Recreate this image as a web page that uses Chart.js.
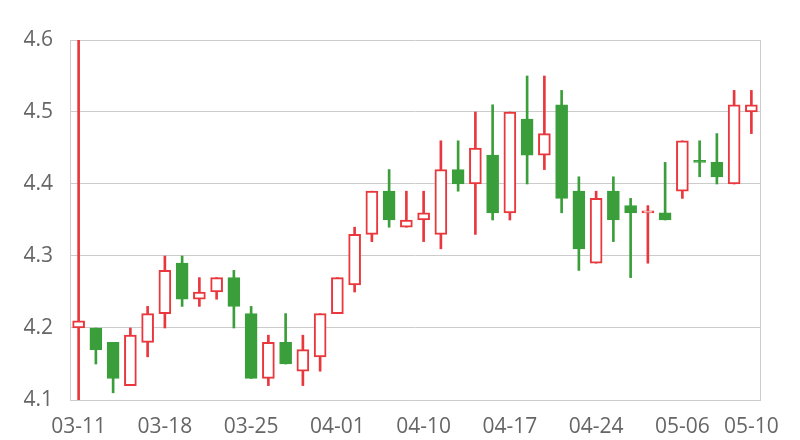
<!DOCTYPE html>
<html>
<head>
<meta charset="utf-8">
<script src="https://cdn.jsdelivr.net/npm/chart.js@4/dist/chart.umd.min.js"></script>
<style>
  html, body { margin:0; padding:0; background:#fff; }
  #wrap { width:800px; height:440px; }
</style>
</head>
<body>
<div id="wrap"><canvas id="kChart" width="800" height="440"></canvas></div>
<script>
const dates = ["03-11","03-12","03-13","03-14","03-15","03-18","03-19","03-20","03-21","03-22",
  "03-25","03-26","03-27","03-28","03-29","04-01","04-02","04-03","04-08","04-09",
  "04-10","04-11","04-12","04-15","04-16","04-17","04-18","04-19","04-22","04-23",
  "04-24","04-25","04-26","04-29","04-30","05-06","05-07","05-08","05-09","05-10"];
const shownTicks = ["03-11","03-18","03-25","04-01","04-10","04-17","04-24","05-06","05-10"];

const open  = [4.20,4.20,4.18,4.12,4.18,4.22,4.29,4.24,4.25,4.27, 4.22,4.13,4.18,4.14,4.16,4.22,4.26,4.33,4.39,4.34,
               4.35,4.33,4.42,4.40,4.44,4.36,4.49,4.44,4.51,4.39, 4.29,4.39,4.37,4.36,4.36,4.39,4.43,4.43,4.40,4.50];
const close = [4.21,4.17,4.13,4.19,4.22,4.28,4.24,4.25,4.27,4.23, 4.13,4.18,4.15,4.17,4.22,4.27,4.33,4.39,4.35,4.35,
               4.36,4.42,4.40,4.45,4.36,4.50,4.44,4.47,4.38,4.31, 4.38,4.35,4.36,4.36,4.35,4.46,4.43,4.41,4.51,4.51];
const high  = [4.60,4.20,4.18,4.20,4.23,4.30,4.30,4.27,4.27,4.28, 4.23,4.19,4.22,4.19,4.22,4.27,4.34,4.39,4.42,4.39,
               4.39,4.46,4.46,4.50,4.51,4.50,4.55,4.55,4.53,4.41, 4.39,4.41,4.38,4.37,4.43,4.46,4.46,4.47,4.53,4.53];
const low   = [4.10,4.15,4.11,4.12,4.16,4.20,4.23,4.23,4.24,4.20, 4.13,4.12,4.15,4.12,4.14,4.22,4.25,4.32,4.34,4.34,
               4.32,4.31,4.39,4.33,4.35,4.35,4.40,4.42,4.36,4.28, 4.29,4.32,4.27,4.29,4.35,4.38,4.41,4.40,4.40,4.47];

const RED = "#e8383d";
const GREEN = "#3a9f3a";
const GRID = "#cccccc";

// up day: close above open (or equal and not below previous close)
function isUp(i){
  if(close[i] !== open[i]) return close[i] > open[i];
  return i === 0 || close[i] >= close[i-1];
}
const colors = dates.map((d,i) => isUp(i) ? RED : GREEN);
const fills = dates.map((d,i) => isUp(i) ? "#ffffff" : GREEN);
const borders = dates.map((d,i) => isUp(i) ? 2 : 1);

const rightBorder = {
  id: "rightBorder",
  beforeDatasetsDraw(chart){
    const { ctx, chartArea } = chart;
    ctx.save();
    ctx.strokeStyle = GRID;
    ctx.lineWidth = 1;
    ctx.beginPath();
    ctx.moveTo(Math.round(chartArea.right) + 0.5, chartArea.top);
    ctx.lineTo(Math.round(chartArea.right) + 0.5, chartArea.bottom);
    ctx.stroke();
    ctx.restore();
  }
};

new Chart(document.getElementById("kChart"), {
  type: "bar",
  data: {
    labels: dates,
    datasets: [
      {
        label: "body",
        data: dates.map((d,i) => [open[i], close[i]]),
        backgroundColor: fills,
        borderColor: colors,
        borderWidth: borders,
        borderSkipped: false,
        barThickness: 12,
        minBarLength: 2,
        grouped: false
      },
      {
        label: "wick",
        data: dates.map((d,i) => [low[i], high[i]]),
        backgroundColor: colors,
        borderWidth: 0,
        barThickness: 2,
        grouped: false
      }
    ]
  },
  options: {
    responsive: false,
    animation: false,
    layout: { padding: { top: 40, right: 40, bottom: 0, left: 0 } },
    plugins: { legend: { display: false }, tooltip: { enabled: false } },
    scales: {
      x: {
        offset: true,
        grid: { display: false, drawTicks: false },
        border: { display: true, color: GRID },
        afterFit(scale){ scale.height = 40; },
        ticks: {
          autoSkip: false,
          maxRotation: 0,
          padding: 14,
          color: "#666",
          font: { family: "'Open Sans', 'Noto Sans', sans-serif", size: 21 },
          callback(value){
            const lab = dates[value];
            return shownTicks.includes(lab) ? lab : null;
          }
        }
      },
      y: {
        min: 4.1,
        max: 4.6,
        grid: { color: GRID, drawTicks: false },
        border: { display: true, color: GRID },
        afterFit(scale){ scale.width = 70; },
        ticks: {
          stepSize: 0.1,
          padding: 17,
          color: "#666",
          font: { family: "'Open Sans', 'Noto Sans', sans-serif", size: 21 },
          callback(v){ return v.toFixed(1); }
        }
      }
    }
  },
  plugins: [rightBorder]
});
</script>
</body>
</html>
